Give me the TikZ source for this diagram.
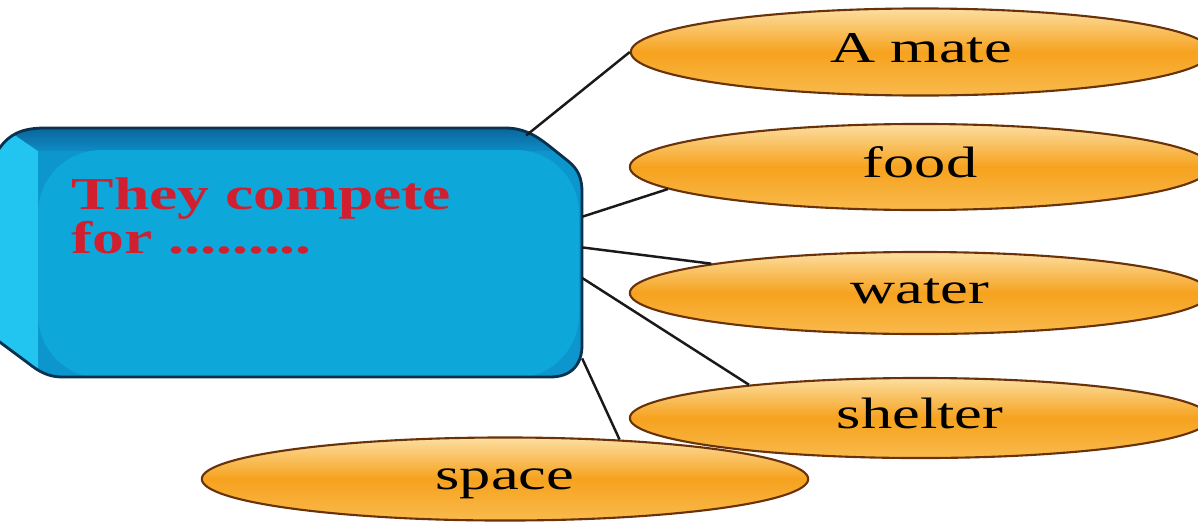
\documentclass[tikz,border=0pt]{standalone}
\usepackage{fontspec}
\setmainfont{Liberation Serif}
\usetikzlibrary{shapes.geometric}
\definecolor{boxface}{RGB}{14,167,217}
\definecolor{boxrim}{RGB}{12,150,205}
\definecolor{boxleft}{RGB}{34,196,240}
\definecolor{boxtop}{RGB}{8,85,138}
\definecolor{boxtopb}{RGB}{14,140,196}
\definecolor{boxline}{RGB}{8,50,80}
\definecolor{redtext}{RGB}{208,32,48}
\definecolor{ovtop}{RGB}{252,222,160}
\definecolor{ovmid}{RGB}{246,162,30}
\definecolor{ovbot}{RGB}{249,186,76}
\definecolor{ovline}{RGB}{105,50,8}
\definecolor{linkc}{RGB}{25,25,25}
\begin{document}
\begin{tikzpicture}[x=0.01cm,y=-0.01cm,
  oval/.style={ellipse, draw=ovline, line width=0.6pt, top color=ovtop, bottom color=ovbot, middle color=ovmid,
    inner sep=0pt, text height=8pt, text depth=2.3pt, font=\fontsize{12.5pt}{14pt}\selectfont},
  link/.style={draw=linkc, line width=0.7pt}]
\useasboundingbox (0,0) rectangle (1198,521);
\clip (0,0) rectangle (1198,521);
\fill[white] (0,0) rectangle (1198,521);
% 3D box
\begin{scope}
  \clip (-3,152) .. controls (8,134) and (22,128) .. (45,128) -- (505,128)
    .. controls (522,128) and (534,134) .. (548,145) -- (568,161)
    .. controls (578,169) and (582,178) .. (582,192) -- (582,345)
    .. controls (582,364) and (572,377) .. (550,377) -- (62,377)
    .. controls (48,377) and (38,371) .. (28,363) -- (-3,340) -- cycle;
  \fill[boxrim] (-10,100) rectangle (600,400);
  \fill[boxleft] (-10,100) -- (38,150) -- (38,390) -- (-10,400) -- cycle;
  \shade[top color=boxtop, bottom color=boxtopb] (-10,118) -- (600,118) -- (600,151) -- (38,151) -- cycle;
  \fill[boxface, rounded corners=18] (38,150) rectangle (579,378);
\end{scope}
\draw[boxline, line width=0.8pt] (-3,152) .. controls (8,134) and (22,128) .. (45,128) -- (505,128)
    .. controls (522,128) and (534,134) .. (548,145) -- (568,161)
    .. controls (578,169) and (582,178) .. (582,192) -- (582,345)
    .. controls (582,364) and (572,377) .. (550,377) -- (62,377)
    .. controls (48,377) and (38,371) .. (28,363) -- (-3,340) -- cycle;
\node[minimum width=5.82cm, minimum height=2.49cm, inner sep=0pt, outer sep=0pt] (box) at (291,252.5) {};
\node[anchor=north west, inner sep=0pt, align=left, text=redtext,
  font=\fontsize{13pt}{12.5pt}\selectfont\bfseries] (title) at (71,177)
  {\scalebox{1.39}[1]{They compete}\\\scalebox{1.39}[1]{for .........}};
% ovals
\node[oval, minimum width=5.8cm, minimum height=0.87cm] (mate) at (921,52) {\scalebox{1.42}[1]{A mate}};
\node[oval, minimum width=5.8cm, minimum height=0.86cm] (food) at (920,167) {\scalebox{1.42}[1]{food}};
\node[oval, minimum width=5.8cm, minimum height=0.82cm] (water) at (920,293) {\scalebox{1.42}[1]{water}};
\node[oval, minimum width=5.8cm, minimum height=0.80cm] (shelter) at (920,418) {\scalebox{1.42}[1]{shelter}};
\node[oval, minimum width=6.06cm, minimum height=0.83cm] (space) at (505,479) {\scalebox{1.42}[1]{space}};
% connectors
\draw[link, shorten <=-0.12cm] (box.27.5) -- (mate.180);
\draw[link] (box.7.7) -- (food.185);
\draw[link] (box.1.9) -- (water.172.5);
\draw[link] (box.355.4) -- (shelter.169.5);
\draw[link] (box.340.3) -- (space.19);
\end{tikzpicture}
\end{document}
